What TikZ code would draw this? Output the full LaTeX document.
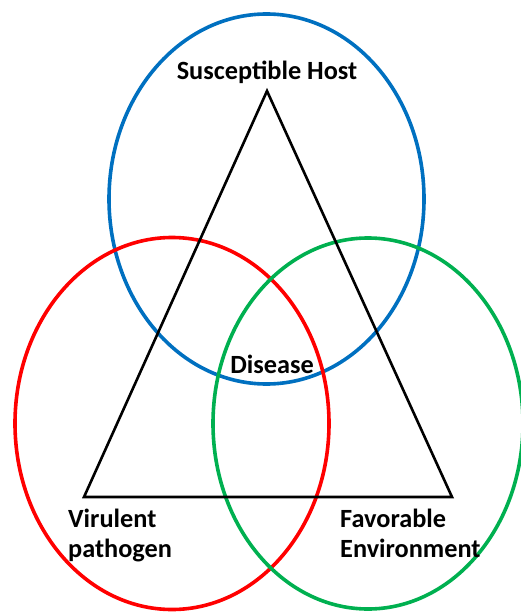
\documentclass[tikz,border=0pt]{standalone}
\usepackage{fontspec}
\setmainfont{Carlito}
\definecolor{hostblue}{RGB}{0,112,192}
\definecolor{pathred}{RGB}{255,0,0}
\definecolor{envgreen}{RGB}{0,176,80}
\begin{document}
\begin{tikzpicture}[x=1pt,y=-1pt,
  ring/.style={line width=3.6pt},
  edge/.style={line width=2.6pt,line join=miter},
  lbl/.style={font=\fontsize{26.3}{30}\selectfont\bfseries,inner sep=0pt}]
\useasboundingbox (0,0) rectangle (521,612);
% the three circles of the disease triangle
\draw[ring,hostblue] (266.5,199) ellipse [x radius=157.5, y radius=185];
\draw[ring,pathred] (172,423.5) ellipse [x radius=157, y radius=186];
\draw[ring,envgreen] (368,423.5) ellipse [x radius=155, y radius=185.5];
% triangle corners
\coordinate (apex) at (267,91);
\coordinate (bl) at (84,497);
\coordinate (br) at (452,497);
\draw[edge] (apex) -- (bl) -- (br) -- cycle;
% labels
\node[lbl,anchor=base] (host) at (267,80) {Susceptible Host};
\node[lbl,anchor=base] (dis) at (272,373) {Disease};
\node[lbl,anchor=base west] (vir1) at (68,527) {Virulent};
\node[lbl,anchor=base west] (vir2) at (68,557) {pathogen};
\node[lbl,anchor=base west] (fav1) at (340,527) {Favorable};
\node[lbl,anchor=base west] (fav2) at (340,557) {Environment};
\end{tikzpicture}
\end{document}
